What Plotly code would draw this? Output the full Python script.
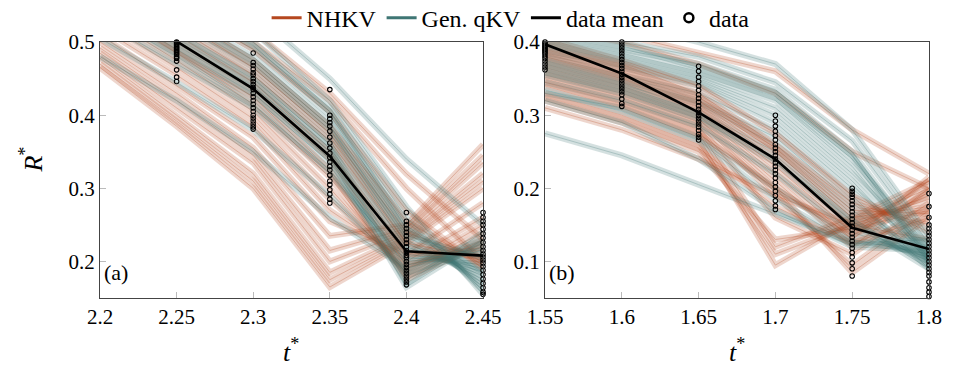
import plotly.graph_objects as go

# ---------------- data ----------------
t_a = [2.2, 2.25, 2.3, 2.35, 2.4, 2.45]
t_b = [1.55, 1.6, 1.65, 1.7, 1.75, 1.8]

nhkv_a = [
    [0.465, 0.385, 0.300, 0.165, 0.225, 0.300],
    [0.470, 0.392, 0.310, 0.175, 0.230, 0.310],
    [0.478, 0.400, 0.320, 0.185, 0.235, 0.320],
    [0.485, 0.410, 0.335, 0.200, 0.240, 0.335],
    [0.492, 0.420, 0.345, 0.215, 0.245, 0.345],
    [0.500, 0.430, 0.355, 0.235, 0.250, 0.360],
    [0.510, 0.440, 0.370, 0.255, 0.210, 0.280],
    [0.520, 0.455, 0.385, 0.270, 0.200, 0.260],
    [0.530, 0.465, 0.395, 0.285, 0.190, 0.250],
    [0.540, 0.475, 0.405, 0.300, 0.185, 0.240],
    [0.550, 0.485, 0.415, 0.315, 0.180, 0.230],
    [0.555, 0.490, 0.425, 0.325, 0.175, 0.225],
    [0.560, 0.500, 0.435, 0.340, 0.195, 0.220],
    [0.570, 0.510, 0.445, 0.350, 0.210, 0.215],
    [0.580, 0.520, 0.455, 0.365, 0.225, 0.205],
    [0.590, 0.530, 0.465, 0.375, 0.240, 0.200],
    [0.600, 0.540, 0.475, 0.385, 0.255, 0.195],
    [0.610, 0.550, 0.490, 0.405, 0.270, 0.190],
    [0.620, 0.560, 0.500, 0.420, 0.300, 0.200],
    [0.635, 0.575, 0.515, 0.430, 0.320, 0.230],
]

qkv_a = [
    [0.480, 0.420, 0.350, 0.260, 0.190, 0.230],
    [0.530, 0.470, 0.410, 0.320, 0.200, 0.210],
    [0.545, 0.485, 0.425, 0.335, 0.205, 0.200],
    [0.555, 0.495, 0.435, 0.345, 0.210, 0.195],
    [0.565, 0.505, 0.445, 0.355, 0.215, 0.190],
    [0.575, 0.515, 0.455, 0.365, 0.220, 0.185],
    [0.585, 0.525, 0.465, 0.375, 0.225, 0.180],
    [0.590, 0.530, 0.470, 0.380, 0.230, 0.175],
    [0.600, 0.540, 0.480, 0.390, 0.240, 0.170],
    [0.610, 0.550, 0.490, 0.400, 0.250, 0.165],
    [0.620, 0.560, 0.500, 0.410, 0.260, 0.160],
    [0.630, 0.575, 0.515, 0.420, 0.275, 0.155],
    [0.650, 0.600, 0.540, 0.450, 0.340, 0.250],
    [0.560, 0.500, 0.440, 0.350, 0.170, 0.240],
    [0.550, 0.490, 0.430, 0.340, 0.165, 0.230],
    [0.570, 0.510, 0.450, 0.360, 0.180, 0.220],
    [0.540, 0.480, 0.415, 0.325, 0.195, 0.215],
    [0.595, 0.535, 0.475, 0.385, 0.235, 0.205],
    [0.505, 0.445, 0.380, 0.290, 0.185, 0.225],
    [0.615, 0.555, 0.495, 0.405, 0.245, 0.185],
]

nhkv_b = [
    [0.310, 0.280, 0.240, 0.190, 0.150, 0.130],
    [0.320, 0.290, 0.250, 0.130, 0.145, 0.170],
    [0.330, 0.300, 0.260, 0.110, 0.150, 0.190],
    [0.340, 0.310, 0.270, 0.095, 0.155, 0.200],
    [0.350, 0.320, 0.280, 0.120, 0.160, 0.210],
    [0.355, 0.325, 0.285, 0.160, 0.110, 0.180],
    [0.360, 0.330, 0.290, 0.190, 0.095, 0.170],
    [0.365, 0.335, 0.295, 0.200, 0.085, 0.160],
    [0.370, 0.340, 0.300, 0.210, 0.120, 0.200],
    [0.375, 0.345, 0.305, 0.220, 0.130, 0.215],
    [0.380, 0.350, 0.310, 0.230, 0.140, 0.210],
    [0.385, 0.355, 0.315, 0.240, 0.150, 0.185],
    [0.390, 0.360, 0.320, 0.250, 0.160, 0.175],
    [0.395, 0.365, 0.325, 0.255, 0.170, 0.165],
    [0.400, 0.370, 0.330, 0.260, 0.180, 0.150],
    [0.405, 0.375, 0.340, 0.275, 0.190, 0.140],
    [0.420, 0.400, 0.370, 0.330, 0.250, 0.200],
    [0.430, 0.410, 0.385, 0.360, 0.280, 0.220],
    [0.345, 0.315, 0.275, 0.200, 0.135, 0.195],
    [0.325, 0.295, 0.255, 0.175, 0.125, 0.160],
]

qkv_b = [
    [0.275, 0.245, 0.205, 0.165, 0.125, 0.130],
    [0.330, 0.310, 0.270, 0.200, 0.130, 0.110],
    [0.345, 0.320, 0.285, 0.220, 0.140, 0.105],
    [0.355, 0.330, 0.295, 0.235, 0.150, 0.100],
    [0.365, 0.340, 0.305, 0.250, 0.160, 0.095],
    [0.370, 0.345, 0.315, 0.260, 0.170, 0.100],
    [0.375, 0.350, 0.320, 0.270, 0.180, 0.105],
    [0.380, 0.355, 0.330, 0.280, 0.190, 0.090],
    [0.385, 0.365, 0.340, 0.290, 0.200, 0.110],
    [0.390, 0.370, 0.345, 0.300, 0.210, 0.100],
    [0.395, 0.375, 0.350, 0.310, 0.220, 0.115],
    [0.400, 0.380, 0.355, 0.320, 0.230, 0.105],
    [0.405, 0.385, 0.360, 0.325, 0.240, 0.120],
    [0.410, 0.390, 0.370, 0.335, 0.250, 0.110],
    [0.420, 0.400, 0.380, 0.345, 0.265, 0.125],
    [0.440, 0.425, 0.400, 0.370, 0.280, 0.135],
    [0.320, 0.290, 0.240, 0.170, 0.120, 0.115],
    [0.335, 0.305, 0.265, 0.185, 0.125, 0.120],
    [0.360, 0.335, 0.300, 0.240, 0.155, 0.090],
    [0.415, 0.395, 0.365, 0.330, 0.245, 0.100],
]

data_t_a = [2.25, 2.3, 2.35, 2.4, 2.45]
data_a = [
    [0.500, 0.499, 0.497, 0.495, 0.493, 0.491, 0.489, 0.487, 0.485, 0.483, 0.480, 0.478, 0.474, 0.462, 0.452, 0.446],
    [0.485, 0.472, 0.468, 0.463, 0.458, 0.455, 0.450, 0.446, 0.442, 0.438, 0.435, 0.430, 0.425, 0.420, 0.415, 0.410,
     0.405, 0.400, 0.396, 0.392, 0.388, 0.384, 0.381],
    [0.435, 0.400, 0.395, 0.390, 0.385, 0.378, 0.370, 0.362, 0.355, 0.348, 0.342, 0.336, 0.330, 0.325, 0.318, 0.310,
     0.305, 0.298, 0.292, 0.285, 0.280],
    [0.267, 0.255, 0.250, 0.245, 0.240, 0.235, 0.230, 0.225, 0.220, 0.215, 0.212, 0.208, 0.205, 0.200, 0.196, 0.192,
     0.188, 0.184, 0.180, 0.176, 0.172, 0.168],
    [0.267, 0.260, 0.255, 0.250, 0.244, 0.238, 0.232, 0.226, 0.220, 0.215, 0.210, 0.206, 0.202, 0.198, 0.193, 0.188,
     0.182, 0.176, 0.170, 0.164, 0.158, 0.155],
]
mean_a = [0.501, 0.436, 0.344, 0.214, 0.208]

data_t_b = [1.55, 1.6, 1.65, 1.7, 1.75, 1.8]
data_b = [
    [0.400, 0.398, 0.396, 0.394, 0.392, 0.390, 0.388, 0.386, 0.384, 0.381, 0.378, 0.374, 0.370, 0.366, 0.362],
    [0.400, 0.396, 0.392, 0.388, 0.384, 0.380, 0.376, 0.372, 0.368, 0.364, 0.360, 0.356, 0.352, 0.348, 0.344, 0.340,
     0.336, 0.332, 0.328, 0.322, 0.316, 0.312],
    [0.367, 0.360, 0.352, 0.346, 0.340, 0.334, 0.328, 0.323, 0.318, 0.313, 0.308, 0.304, 0.300, 0.296, 0.292, 0.288,
     0.284, 0.279, 0.274, 0.270, 0.266],
    [0.300, 0.292, 0.285, 0.278, 0.272, 0.266, 0.260, 0.255, 0.250, 0.245, 0.240, 0.235, 0.230, 0.225, 0.220, 0.214,
     0.208, 0.202, 0.196, 0.190, 0.183, 0.176, 0.171],
    [0.200, 0.196, 0.192, 0.188, 0.183, 0.178, 0.173, 0.168, 0.163, 0.158, 0.153, 0.148, 0.143, 0.138, 0.133, 0.128,
     0.123, 0.118, 0.112, 0.106, 0.098, 0.090, 0.080],
    [0.193, 0.175, 0.160, 0.150, 0.145, 0.140, 0.135, 0.130, 0.125, 0.120, 0.115, 0.110, 0.105, 0.100, 0.095, 0.090,
     0.085, 0.080, 0.072, 0.064, 0.058, 0.052],
]
mean_b = [0.397, 0.357, 0.304, 0.240, 0.146, 0.117]

xticks_a = [2.2, 2.25, 2.3, 2.35, 2.4, 2.45]
xticks_b = [1.55, 1.6, 1.65, 1.7, 1.75, 1.8]
yticks_a = [0.2, 0.3, 0.4, 0.5]
yticks_b = [0.1, 0.2, 0.3, 0.4]

# ---------------- styling ----------------
C_NHKV = "#b5471f"
C_QKV = "#3f7674"
FONT = "Liberation Serif, DejaVu Serif, serif"

fig = go.Figure()


def add_band(x, ys, color, xa, ya):
    for y in ys:
        fig.add_trace(go.Scatter(x=x, y=y, mode="lines", xaxis=xa, yaxis=ya,
                                 line=dict(color=color, width=6), opacity=0.22,
                                 showlegend=False, hoverinfo="skip"))
        fig.add_trace(go.Scatter(x=x, y=y, mode="lines", xaxis=xa, yaxis=ya,
                                 line=dict(color=color, width=0.8), opacity=0.35,
                                 showlegend=False, hoverinfo="skip"))


add_band(t_a, nhkv_a[:10], C_NHKV, "x", "y")
add_band(t_a, qkv_a[:10], C_QKV, "x", "y")
add_band(t_a, nhkv_a[10:], C_NHKV, "x", "y")
add_band(t_a, qkv_a[10:], C_QKV, "x", "y")
add_band(t_b, nhkv_b[:10], C_NHKV, "x2", "y2")
add_band(t_b, qkv_b[:10], C_QKV, "x2", "y2")
add_band(t_b, nhkv_b[10:], C_NHKV, "x2", "y2")
add_band(t_b, qkv_b[10:], C_QKV, "x2", "y2")


def add_data(ts, groups, xa, ya):
    xs, ys = [], []
    for t, g in zip(ts, groups):
        xs += [t] * len(g)
        ys += g
    fig.add_trace(go.Scatter(x=xs, y=ys, mode="markers", xaxis=xa, yaxis=ya,
                             marker=dict(symbol="circle-open", size=4.5, color="black",
                                         line=dict(width=1.1, color="black")),
                             showlegend=False, hoverinfo="skip", cliponaxis=False))


add_data(data_t_a, data_a, "x", "y")
add_data(data_t_b, data_b, "x2", "y2")

fig.add_trace(go.Scatter(x=data_t_a, y=mean_a, mode="lines", xaxis="x", yaxis="y",
                         line=dict(color="black", width=2.6), showlegend=False))
fig.add_trace(go.Scatter(x=data_t_b, y=mean_b, mode="lines", xaxis="x2", yaxis="y2",
                         line=dict(color="black", width=2.6), showlegend=False))

# legend entries
fig.add_trace(go.Scatter(x=[None], y=[None], mode="lines", name="NHKV",
                         line=dict(color=C_NHKV, width=3)))
fig.add_trace(go.Scatter(x=[None], y=[None], mode="lines", name="Gen. qKV",
                         line=dict(color=C_QKV, width=3)))
fig.add_trace(go.Scatter(x=[None], y=[None], mode="lines", name="data mean",
                         line=dict(color="black", width=3)))
fig.add_trace(go.Scatter(x=[None], y=[None], mode="markers", name="data",
                         marker=dict(symbol="circle-open", size=9, color="black",
                                     line=dict(width=2.5, color="black"))))

axis_common = dict(showgrid=False, zeroline=False, showline=True, linecolor="#444",
                   linewidth=1, mirror=True, ticks="inside", ticklen=6, automargin=False,
                   tickcolor="#bbbbbb", tickfont=dict(family=FONT, size=21, color="black"))

fig.update_layout(
    template="none",
    width=958, height=379,
    margin=dict(l=0, r=0, t=0, b=0, pad=0, autoexpand=False),
    paper_bgcolor="white", plot_bgcolor="white",
    font=dict(family=FONT, size=21, color="black"),
    showlegend=True,
    legend=dict(orientation="h", x=0.533, xanchor="center", y=0.952, yanchor="middle",
                font=dict(family=FONT, size=24), itemwidth=30,
                bgcolor="rgba(0,0,0,0)", tracegroupgap=0),
    xaxis=dict(domain=[0.1044, 0.5042], range=[2.2, 2.45], tickvals=xticks_a,
               ticktext=[f"{v:g}" for v in xticks_a], anchor="y", **axis_common),
    yaxis=dict(domain=[0.2137, 0.889], range=[0.15, 0.5], tickvals=yticks_a,
               ticktext=[f"{v:g}" for v in yticks_a], anchor="x", **axis_common),
    xaxis2=dict(domain=[0.5689, 0.9697], range=[1.55, 1.8], tickvals=xticks_b,
                ticktext=[f"{v:g}" for v in xticks_b], anchor="y2", **axis_common),
    yaxis2=dict(domain=[0.2137, 0.889], range=[0.05, 0.4], tickvals=yticks_b,
                ticktext=[f"{v:g}" for v in yticks_b], anchor="x2", **axis_common),
    annotations=[
        dict(text="<i>t</i><sup>*</sup>", x=0.304, y=(379 - 350) / 379, xref="paper", yref="paper",
             xanchor="center", yanchor="middle",
             showarrow=False, font=dict(family=FONT, size=26)),
        dict(text="<i>t</i><sup>*</sup>", x=0.769, y=(379 - 350) / 379, xref="paper", yref="paper",
             xanchor="center", yanchor="middle",
             showarrow=False, font=dict(family=FONT, size=26)),
        dict(text="<i>R</i><sup>*</sup>", x=0.033, y=(379 - 160) / 379, xref="paper", yref="paper",
             xanchor="center", yanchor="middle",
             showarrow=False, textangle=-90, font=dict(family=FONT, size=26)),
        dict(text="(a)", x=0.106, y=(379 - 272) / 379, xref="paper", yref="paper",
             xanchor="left", yanchor="middle", showarrow=False, font=dict(family=FONT, size=22)),
        dict(text="(b)", x=0.571, y=(379 - 272) / 379, xref="paper", yref="paper",
             xanchor="left", yanchor="middle", showarrow=False, font=dict(family=FONT, size=22)),
    ],
)

fig.write_html("out.html")
